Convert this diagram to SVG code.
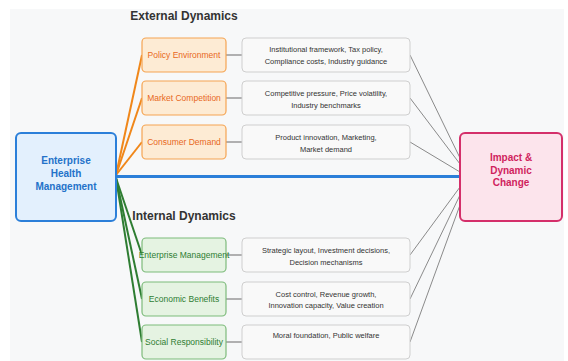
<svg xmlns="http://www.w3.org/2000/svg" width="568" height="361" viewBox="0 0 568 361">
<style>
text{font-family:"Liberation Sans",Arial,sans-serif;text-anchor:middle}
.title{font-size:12px;font-weight:bold;fill:#333}
.ext rect{fill:#fdebd4;stroke:#f5a452;stroke-width:1.2}
.ext text{font-size:8.5px;fill:#e8681c}
.int rect{fill:#e5f3e2;stroke:#7dbb7b;stroke-width:1.2}
.int text{font-size:8.5px;fill:#2e7d32}
.det rect{fill:#f9f9f9;stroke:#cfcfcf;stroke-width:1}
.det text{font-size:7.5px;fill:#333}
.big{font-size:10px;font-weight:bold}
</style>
<rect x="0" y="0" width="568" height="361" fill="#ffffff"/>
<rect x="10" y="9" width="554" height="360" fill="#f7f8f9"/>
<text class="title" x="184" y="20">External Dynamics</text>
<text class="title" x="184" y="220">Internal Dynamics</text>
<g id="connectors" fill="none">
<g stroke="#f0871a" stroke-width="2">
<line x1="116" y1="175" x2="142" y2="55"/>
<line x1="116" y1="175" x2="142" y2="98"/>
<line x1="116" y1="175" x2="142" y2="142"/>
</g>
<g stroke="#2e7d32" stroke-width="2">
<line x1="116" y1="178" x2="142" y2="255"/>
<line x1="116" y1="178" x2="142" y2="299"/>
<line x1="116" y1="178" x2="142" y2="342"/>
</g>
<line x1="116" y1="176.5" x2="460" y2="176.5" stroke="#2b7fd9" stroke-width="3"/>
<g stroke="#999" stroke-width="1.5">
<line x1="226" y1="55" x2="242" y2="55"/>
<line x1="226" y1="98" x2="242" y2="98"/>
<line x1="226" y1="142" x2="242" y2="142"/>
<line x1="226" y1="255" x2="242" y2="255"/>
<line x1="226" y1="299" x2="242" y2="299"/>
<line x1="226" y1="342" x2="242" y2="342"/>
</g>
<g stroke="#8a8a8a" stroke-width="1">
<line x1="410" y1="55" x2="460" y2="158"/>
<line x1="410" y1="98" x2="460" y2="164"/>
<line x1="410" y1="142" x2="460" y2="172"/>
<line x1="410" y1="255" x2="460" y2="187"/>
<line x1="410" y1="299" x2="460" y2="195"/>
<line x1="410" y1="342" x2="460" y2="205"/>
</g>
</g>
<g id="enterprise">
<rect x="16" y="133" width="100" height="88" rx="5" fill="#e3f0fd" stroke="#2b7fd9" stroke-width="2"/>
<text class="big" fill="#2372c9" x="66" y="164">Enterprise</text>
<text class="big" fill="#2372c9" x="66" y="177">Health</text>
<text class="big" fill="#2372c9" x="66" y="190">Management</text>
</g>
<g id="impact">
<rect x="460" y="133" width="102" height="88" rx="5" fill="#fce4ec" stroke="#d42f6a" stroke-width="2"/>
<text class="big" fill="#d01f5e" x="511" y="161">Impact &amp;</text>
<text class="big" fill="#d01f5e" x="511" y="173.5">Dynamic</text>
<text class="big" fill="#d01f5e" x="511" y="186">Change</text>
</g>
<g id="policy" class="ext"><rect x="142" y="38" width="84" height="34" rx="4"/><text x="184" y="58">Policy Environment</text></g>
<g id="market" class="ext"><rect x="142" y="81" width="84" height="34" rx="4"/><text x="184" y="101">Market Competition</text></g>
<g id="consumer" class="ext"><rect x="142" y="125" width="84" height="34" rx="4"/><text x="184" y="145">Consumer Demand</text></g>
<g id="entmgmt" class="int"><rect x="142" y="238" width="84" height="34" rx="4"/><text x="184" y="258">Enterprise Management</text></g>
<g id="econ" class="int"><rect x="142" y="282" width="84" height="34" rx="4"/><text x="184" y="302">Economic Benefits</text></g>
<g id="social" class="int"><rect x="142" y="325" width="84" height="34" rx="4"/><text x="184" y="345">Social Responsibility</text></g>
<g id="policy-detail" class="det"><rect x="242" y="38" width="168" height="34" rx="4"/><text x="326" y="52">Institutional framework, Tax policy,</text><text x="326" y="64">Compliance costs, Industry guidance</text></g>
<g id="market-detail" class="det"><rect x="242" y="81" width="168" height="34" rx="4"/><text x="326" y="95.5">Competitive pressure, Price volatility,</text><text x="326" y="107.5">Industry benchmarks</text></g>
<g id="consumer-detail" class="det"><rect x="242" y="125" width="168" height="34" rx="4"/><text x="326" y="139.5">Product innovation, Marketing,</text><text x="326" y="151.5">Market demand</text></g>
<g id="entmgmt-detail" class="det"><rect x="242" y="238" width="168" height="34" rx="4"/><text x="326" y="252.5">Strategic layout, Investment decisions,</text><text x="326" y="264.5">Decision mechanisms</text></g>
<g id="econ-detail" class="det"><rect x="242" y="282" width="168" height="34" rx="4"/><text x="326" y="297">Cost control, Revenue growth,</text><text x="326" y="308">Innovation capacity, Value creation</text></g>
<g id="social-detail" class="det"><rect x="242" y="325" width="168" height="34" rx="4"/><text x="326" y="338">Moral foundation, Public welfare</text></g>
</svg>
